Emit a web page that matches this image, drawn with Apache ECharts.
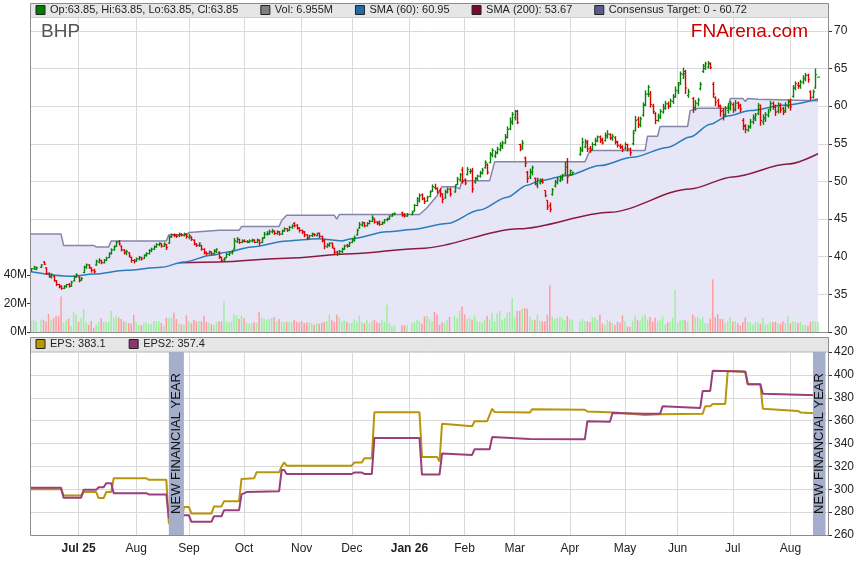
<!DOCTYPE html>
<html>
<head>
<meta charset="utf-8">
<script src="https://cdn.jsdelivr.net/npm/echarts@6/dist/echarts.min.js"></script>
<style>
    html, body { margin: 0; padding: 0; background: #fff; }
    #chart { width: 859px; height: 566px; }
</style>
</head>
<body>
<div id="chart"></div>
<script>
// Axe des dates : jours ouvrés du 4 juin 2025 au 24 août 2026
const startDate = "2025-06-04";
const endDate = "2026-08-24";
const monthLabels = ["Jul 25", "Aug", "Sep", "Oct", "Nov", "Dec", "Jan 26", "Feb", "Mar", "Apr", "May", "Jun", "Jul", "Aug"];
const boldLabels = ["Jul 25", "Jan 26"];
const priceTicks = [30, 35, 40, 45, 50, 55, 60, 65, 70];
const volumeTicks = [0, 20, 40];

// Barres OHLC quotidiennes [ouverture, clôture, bas, haut] (null = jour férié)
const priceBars = [
    [38.1,38.4,38.0,38.5],[38.4,38.6,38.3,38.8],[38.3,38.5,38.2,38.7],null,[38.6,38.9,38.5,39.0],[39.3,39.0,38.9,39.4],[38.5,37.8,37.6,38.6],[37.8,37.4,37.2,37.9],[37.3,37.6,37.1,37.8],[37.4,36.8,36.7,37.5],
    [36.8,36.3,36.1,36.9],[36.3,36.0,35.8,36.4],[36.1,35.8,35.6,36.2],[35.8,36.1,35.7,36.2],[36.0,36.3,35.9,36.4],[36.3,36.1,35.9,36.5],[36.1,36.6,36.0,36.8],[36.8,37.3,36.7,37.5],[37.3,37.6,37.2,37.8],[37.3,36.8,36.6,37.4],
    [36.9,37.1,36.8,37.3],[37.9,38.6,37.8,38.8],[38.6,38.9,38.4,39.1],[38.9,38.6,38.4,39.0],[38.5,38.2,37.9,38.6],[38.2,38.0,37.8,38.4],[38.9,39.4,38.8,39.6],[39.3,39.5,39.1,39.8],[39.5,39.2,39.0,39.6],[39.2,39.5,39.1,39.7],
    [39.5,39.8,39.4,40.0],[39.9,40.4,39.8,40.6],[40.4,40.9,40.3,41.1],[40.9,41.3,40.8,41.5],[41.4,41.9,41.3,42.1],[42.0,41.7,41.5,42.2],[41.4,40.9,40.7,41.5],[40.9,40.6,40.3,41.0],[40.5,40.7,40.2,40.9],[40.5,40.1,39.9,40.6],
    [39.9,39.5,39.2,40.0],[39.5,39.4,39.1,39.7],[39.4,39.7,39.3,39.9],[39.7,39.9,39.5,40.1],[39.9,39.7,39.5,40.0],[39.8,40.2,39.7,40.3],[40.2,40.4,40.0,40.6],[40.4,40.8,40.3,41.0],[40.8,41.0,40.6,41.2],[41.0,41.3,40.9,41.5],
    [41.3,41.6,41.2,41.8],[41.6,41.8,41.4,41.9],[41.7,41.4,41.2,41.8],[41.4,41.7,41.3,41.9],[41.6,41.2,40.9,41.7],[41.8,42.6,41.7,42.8],[42.6,42.9,42.5,43.1],[42.9,42.8,42.6,43.1],[42.9,42.7,42.5,43.0],[42.8,43.0,42.6,43.2],
    [43.0,42.9,42.7,43.1],[42.8,43.0,42.7,43.2],[43.0,42.7,42.4,43.1],[42.6,42.8,42.3,43.0],[42.6,42.3,42.1,42.7],[42.2,41.7,41.5,42.3],[41.7,41.5,41.3,41.8],[41.5,41.8,41.3,41.9],[41.5,41.0,40.8,41.6],[41.0,40.6,40.3,41.1],
    [40.5,40.4,40.2,40.7],[40.4,40.7,40.3,40.8],[40.6,40.4,40.2,40.7],[40.4,40.8,40.3,41.0],[40.7,41.0,40.5,41.1],[40.6,40.0,39.7,40.7],[39.9,39.5,39.3,40.0],[39.6,39.7,39.4,39.9],[39.9,40.3,39.8,40.5],[40.3,40.5,40.1,40.7],
    [40.5,40.7,40.3,40.9],[41.0,42.1,40.9,42.5],[42.0,42.3,41.8,42.6],[42.3,41.9,41.7,42.4],[41.9,42.1,41.8,42.3],[42.1,42.0,41.9,42.3],[42.0,42.0,41.8,42.2],[41.9,42.1,41.8,42.3],[42.1,42.2,41.9,42.4],[42.2,41.9,41.8,42.3],
    [41.9,42.2,41.8,42.4],[42.2,41.8,41.5,42.3],[41.9,42.4,41.8,42.6],[42.5,43.0,42.4,43.3],[43.0,43.1,42.8,43.4],[43.0,43.3,42.9,43.6],[43.3,43.4,43.1,43.7],[43.4,43.1,42.9,43.5],[43.1,43.3,42.9,43.5],[43.3,43.0,42.8,43.4],
    [43.0,43.4,42.9,43.6],[43.4,43.7,43.3,43.9],[43.7,43.5,43.3,43.8],[43.5,43.9,43.4,44.1],[43.9,44.1,43.7,44.3],[44.4,44.1,43.9,44.6],[44.2,43.8,43.6,44.3],[43.8,43.5,43.2,43.9],[43.5,43.3,43.0,43.6],[43.3,42.9,42.6,43.4],
    [42.9,42.5,42.2,43.0],[42.5,42.8,42.4,42.9],[42.8,43.0,42.6,43.2],[43.0,42.9,42.7,43.1],[42.8,43.1,42.7,43.2],[43.1,42.7,42.5,43.2],[42.7,42.2,41.9,42.8],[42.1,41.4,41.0,42.3],[41.3,41.6,41.2,41.8],[41.5,41.8,41.3,41.9],
    [41.8,41.3,41.1,41.9],[41.1,40.6,40.3,41.2],[40.6,40.3,40.1,40.8],[40.3,40.7,40.2,40.9],[40.7,41.0,40.5,41.2],[41.0,41.4,40.9,41.6],[41.5,41.4,41.2,41.7],[41.4,41.8,41.3,42.0],[41.9,42.2,41.8,42.5],[42.2,42.5,42.0,42.8],
    [42.9,43.5,42.8,43.7],[43.8,44.3,43.7,44.6],[44.2,44.5,44.0,44.7],[44.5,44.1,43.9,44.6],[44.1,44.4,44.0,44.6],[44.4,44.7,44.3,44.9],[44.7,45.2,44.6,45.5],[45.0,44.6,44.4,45.1],[44.6,44.4,44.2,44.7],[44.6,44.3,44.1,44.8],
    [44.3,44.5,44.2,44.7],[44.5,44.9,44.4,45.0],[44.9,45.0,44.7,45.2],[45.0,45.4,44.9,45.5],[45.4,45.6,45.3,45.8],[45.6,45.7,45.5,45.9],null,null,[45.8,45.5,45.3,46.0],[45.6,45.4,45.2,45.8],
    [45.4,45.6,45.3,45.8],null,[45.6,45.9,45.5,46.1],[46.1,46.8,46.0,47.0],[46.8,47.7,46.7,47.9],[47.4,48.1,47.2,48.4],[48.2,47.7,47.5,48.4],[47.7,47.3,47.0,47.9],[47.4,47.9,47.3,48.1],[48.0,48.6,47.9,48.8],
    [48.7,49.3,48.6,49.6],[49.2,49.1,48.9,49.7],[49.0,48.6,48.4,49.2],[48.8,48.4,47.9,49.1],[48.3,47.6,47.1,48.4],[47.8,48.6,47.7,48.9],[48.6,49.0,48.4,49.2],[48.9,48.3,48.0,49.2],null,[48.6,49.4,48.5,49.6],
    [49.6,50.3,49.5,50.6],[50.2,50.9,50.0,51.1],[51.5,50.0,49.7,51.9],[50.2,49.8,49.5,50.4],[50.9,51.6,50.8,51.9],[51.3,51.4,51.0,51.7],[51.3,49.0,48.5,51.8],[49.9,50.4,49.7,50.6],[50.3,50.7,50.1,50.9],[50.7,51.1,50.5,51.4],
    [51.1,51.5,50.9,51.8],[51.8,52.5,51.7,52.8],[52.2,51.2,50.9,52.4],[52.5,53.6,52.4,53.9],[53.5,54.1,53.2,54.4],[53.4,53.8,53.1,54.1],[53.8,54.3,53.6,54.6],[54.2,54.8,54.0,55.2],[54.6,55.1,54.3,55.4],[55.1,55.8,55.0,56.3],
    [55.9,56.9,55.7,57.3],[57.0,58.0,56.8,58.5],[57.8,58.9,57.5,59.2],[58.5,59.3,58.1,59.5],[59.3,57.8,57.6,59.5],[54.9,54.3,54.0,55.0],[54.6,55.1,54.2,55.5],[53.1,52.4,51.9,53.3],[51.2,50.4,49.8,51.4],[50.6,51.3,50.3,51.7],
    [51.2,51.8,50.8,52.1],[50.4,49.7,49.5,50.5],[49.5,50.3,49.1,50.5],[49.8,50.2,49.6,50.4],[50.0,49.9,49.7,50.4],[48.8,48.1,47.9,48.8],[47.5,46.6,46.2,47.5],[46.8,46.3,45.9,47.2],[48.3,48.9,48.1,49.1],[49.4,49.9,49.2,50.2],
    [49.9,50.3,49.6,50.6],[50.1,50.5,49.9,50.8],[50.3,50.8,50.1,51.0],[51.0,51.9,50.8,52.6],[52.6,50.6,49.7,53.1],[50.9,51.4,50.7,51.6],[50.9,51.2,50.8,51.3],null,null,[53.6,54.3,53.4,54.6],
    [54.1,55.2,53.9,55.8],[54.6,55.3,54.4,55.6],[55.1,54.3,53.9,55.5],[54.4,54.1,53.8,54.7],[54.3,54.9,54.1,55.2],[54.9,55.4,54.7,55.8],[55.4,55.9,55.2,56.1],[55.9,55.4,55.1,56.1],[55.6,55.1,54.9,55.8],[55.4,56.1,55.3,56.5],
    [55.9,56.3,55.7,56.8],[56.2,55.8,55.5,56.4],[55.7,56.0,55.4,56.3],[55.8,55.2,54.9,56.0],[55.3,54.8,54.5,55.4],[54.7,54.5,54.3,55.0],[54.6,54.2,53.9,54.8],[54.4,54.9,54.2,55.2],[54.9,54.3,54.0,55.0],[54.3,53.8,53.4,54.5],
    [55.0,56.4,54.8,56.8],[56.8,58.1,56.6,58.7],[58.2,57.5,57.1,58.6],[57.6,58.3,57.2,58.6],[58.8,60.1,58.6,60.5],[60.2,61.6,60.0,62.1],[61.6,62.5,61.2,62.8],[61.6,60.2,59.8,62.0],[60.0,59.3,59.0,60.3],[59.0,58.1,57.6,59.2],
    [58.1,58.7,57.9,59.0],[58.5,59.3,58.3,59.6],[59.2,59.9,59.0,60.3],[59.7,60.3,59.5,60.7],[60.3,60.0,59.6,60.6],[60.0,60.7,59.8,61.0],[60.6,61.2,60.3,61.6],[61.3,62.1,61.1,62.6],[62.0,62.8,61.6,63.2],[63.1,64.3,62.8,64.6],
    [64.2,64.6,63.6,65.1],[64.3,62.4,61.6,64.8],[61.4,61.9,61.1,62.3],null,[61.0,59.8,59.1,61.2],[59.6,60.4,59.4,60.8],[60.3,60.8,60.0,61.1],[62.3,62.9,62.1,63.2],[64.6,65.3,64.4,65.6],[65.0,65.6,64.8,65.9],
    [65.2,65.7,65.0,66.0],[65.6,65.1,64.9,65.8],[62.9,61.6,61.1,63.2],[61.1,60.5,60.0,61.3],[60.7,60.1,59.8,61.0],[59.9,59.3,58.6,60.2],[59.4,58.8,58.1,59.7],[58.9,59.7,58.6,60.0],[59.4,59.9,59.0,60.4],[59.7,60.3,59.4,60.7],
    [60.2,59.5,59.1,60.5],[59.6,60.4,59.3,60.8],[60.4,60.0,59.6,60.6],[60.1,59.6,59.2,60.3],[58.1,57.4,56.8,58.4],[57.3,56.9,56.4,57.6],[56.8,57.2,56.6,57.5],[57.3,57.9,57.0,58.3],[57.9,58.5,57.6,58.9],[58.3,58.8,58.0,59.1],
    [59.0,60.1,58.8,60.4],[59.6,58.1,57.4,60.2],[57.9,58.5,57.5,58.9],[58.3,58.9,57.9,59.2],[58.8,59.2,58.5,59.6],[59.6,60.3,59.3,60.7],[60.4,59.9,59.5,60.6],[59.9,59.2,58.7,60.2],[59.3,60.1,59.0,60.5],[60.1,59.5,59.1,60.4],
    [59.7,59.2,58.8,59.9],[59.4,60.1,59.1,60.5],[60.0,60.5,59.7,60.9],[60.6,59.9,59.4,61.0],[61.3,62.4,61.1,62.8],[62.4,63.0,62.1,63.3],[62.8,62.7,62.3,63.2],[62.6,63.2,62.3,63.5],[63.2,63.7,62.9,64.1],[63.6,64.1,63.3,64.4],
    [64.1,63.5,63.1,64.3],[61.9,61.1,60.8,62.1],[61.2,61.9,61.0,62.2],[62.4,64.2,62.3,65.0],[63.85,63.85,63.85,63.85]
];

// Volume quotidien en millions
const volumes = [
    8.2,8.6,7.7,null,8.6,8.6,7.5,12.8,8.6,9.8,
    11.4,11.0,25.0,6.8,8.2,9.3,4.4,14.2,12.4,7.2,
    9.6,16.3,7.2,5.1,7.7,3.0,5.1,7.0,9.6,7.2,
    6.8,7.2,14.9,10.0,11.7,10.3,9.1,7.5,6.8,6.3,
    5.8,12.1,7.2,5.1,4.7,6.3,6.8,5.4,5.8,7.7,
    7.7,7.5,6.3,4.4,10.0,9.6,10.3,13.5,9.1,5.8,
    5.4,5.1,11.7,7.7,6.1,8.4,7.5,7.7,7.5,11.4,
    7.0,6.3,5.6,4.9,7.0,7.5,7.5,21.9,7.0,6.8,
    7.5,12.4,11.4,9.1,11.4,9.6,6.3,5.8,6.3,6.8,
    6.3,14.2,10.0,9.6,8.6,9.1,9.8,10.5,7.5,9.1,
    7.2,7.2,7.2,7.2,7.0,8.6,7.2,6.8,7.7,6.3,
    6.8,6.8,6.3,5.1,6.3,5.8,6.5,7.0,7.7,12.4,
    8.2,7.2,12.1,10.5,7.2,8.2,7.0,6.1,6.3,8.9,
    7.2,11.7,7.0,6.1,8.4,6.3,7.5,8.6,6.8,6.3,
    8.6,7.2,19.1,6.3,4.4,4.7,null,null,4.7,4.7,
    4.7,null,6.3,7.0,8.6,7.7,5.8,11.0,11.4,9.1,
    7.5,14.2,12.4,5.1,6.8,6.3,8.2,10.5,null,11.4,
    9.8,14.9,18.0,12.4,9.3,10.0,8.6,11.4,7.9,7.2,
    6.8,8.6,11.4,8.6,13.5,7.7,13.1,14.9,8.6,10.0,
    13.8,14.5,24.0,10.7,14.9,14.9,16.3,17.0,16.3,10.7,
    8.6,8.6,12.1,7.9,7.5,7.5,12.1,32.7,10.7,9.1,
    9.8,10.7,9.8,8.4,11.4,9.3,8.6,null,null,7.5,
    9.3,7.5,7.5,6.8,10.3,10.3,8.4,12.4,5.8,4.9,
    8.6,7.2,6.3,4.9,7.2,6.5,11.7,7.5,4.0,3.5,
    7.9,11.4,8.6,7.9,11.0,12.4,8.6,10.3,7.2,10.0,
    7.9,8.6,11.0,5.1,6.8,6.8,10.0,29.6,6.8,8.2,
    8.6,8.2,7.2,null,12.4,10.5,10.7,9.1,10.3,6.1,
    6.1,9.3,37.0,10.3,12.4,9.3,9.1,6.3,7.7,10.3,
    7.2,7.5,6.3,4.7,6.8,10.3,6.8,6.8,5.1,7.0,
    7.2,5.8,10.0,5.1,5.6,7.0,7.0,7.2,6.3,5.8,
    7.5,6.3,11.4,6.1,7.5,7.0,6.3,7.2,4.9,5.1,
    4.4,7.2,7.9,7.2,6.955
];

// Moyennes mobiles [indice du jour, valeur]
const sma60Points = [[0,38.0],[16,37.4],[25,37.7],[38,38.2],[52,38.6],[61,39.3],[72,40.2],[78,40.6],[88,41.3],[102,42.1],[110,42.3],[115,42.4],[124,42.1],[128,42.4],[142,43.3],[152,43.6],[166,44.4],[179,46.2],[190,47.9],[198,49.5],[203,50.1],[214,50.8],[227,52.1],[240,53.2],[254,54.5],[263,55.9],[271,57.6],[278,58.7],[287,59.4],[300,60.1],[314,60.95]];
const sma200Points = [[59,39.2],[75,39.3],[102,39.8],[128,40.4],[155,41.1],[195,43.7],[231,45.9],[263,49.0],[280,50.6],[302,52.3],[314,53.67]];

// Objectif de consensus (palier) [indice du jour, valeur]
const consensusPoints = [[0,43.0],[12,43.0],[13,41.5],[25,41.5],[26,41.3],[31,41.3],[32,42.1],[54,42.1],[55,42.9],[62,42.9],[63,43.2],[75,43.5],[83,43.5],[84,44.0],[99,44.0],[100,44.8],[102,45.5],[121,45.5],[122,45.0],[123,45.6],[155,45.6],[158,46.5],[162,48.1],[164,49.3],[169,49.3],[171,49.0],[172,50.1],[183,50.1],[185,52.6],[221,52.6],[223,54.1],[245,54.1],[246,56.0],[250,56.0],[251,57.3],[262,57.3],[263,59.4],[266,59.7],[278,59.7],[279,61.0],[284,61.0],[285,60.6],[286,61.0],[290,60.9],[314,60.72]];

// Prévisions de BPA [indice du jour, valeur]
const epsPoints = [[0,300],[12,300],[13,294.6],[20,294.6],[21,297.5],[26,297.5],[27,292.3],[29,292.3],[30,297.5],[32,297.5],[33,309.6],[46,309.6],[47,308.2],[54,308.2],[55,270],[60,270],[61,284.5],[63,284.5],[64,278.7],[72,278.7],[73,285],[76,285],[77,289.4],[83,289.4],[84,309],[89,309.6],[90,314.8],[99,314.8],[100,320],[101,323.4],[102,320.6],[128,320.6],[129,323.4],[132,323.4],[133,327.2],[136,327.2],[137,367.3],[155,367.3],[156,328.3],[162,328.3],[163,324.3],[164,357.2],[176,355],[177,359.5],[182,359.5],[184,370.4],[185,367.5],[199,367],[200,370],[221,369.5],[222,368],[233,367],[245,365],[251,365.5],[268,366],[269,372.6],[271,372.6],[272,374.5],[277,374.5],[278,403.3],[285,402.5],[286,391.8],[291,391.8],[292,370.4],[306,368.5],[307,367.2],[317,366]];
const eps2Points = [[0,301.3],[12,301.3],[13,292.6],[20,292.6],[21,299.5],[26,299.5],[27,301.8],[29,301.8],[30,305.3],[32,305.3],[33,296.6],[46,296.6],[47,295.5],[54,295.5],[55,275],[60,275],[61,277.3],[63,277.3],[64,271.5],[72,271.5],[73,276.4],[76,276.4],[77,281.6],[83,281.6],[84,295.5],[86,297.5],[99,298.3],[100,316.8],[101,316.8],[102,313.4],[128,313.4],[129,314.6],[132,314.6],[133,313.4],[136,313.4],[137,344.8],[155,344.8],[156,312.8],[163,312.8],[164,331.2],[176,330],[177,335],[183,335],[184,345.6],[199,344],[221,343.8],[222,359.5],[231,359],[232,366.7],[245,366],[251,366],[252,372.5],[267,371],[268,386],[271,386],[272,403.6],[285,403],[286,391.8],[291,391.8],[292,383.4],[317,382]];

// Bandes "nouvel exercice" [indice début, indice fin]
const fiscalYearBands = [[55, 61], [312, 317]];

const ohlcName = "Op:63.85, Hi:63.85, Lo:63.85, Cl:63.85";
const volName = "Vol: 6.955M";
const sma60Name = "SMA (60): 60.95";
const sma200Name = "SMA (200): 53.67";
const consensusName = "Consensus Target: 0 - 60.72";
const epsName = "EPS: 383.1";
const eps2Name = "EPS2: 357.4";

const FONT = "'Liberation Sans', Arial, sans-serif";
const UP = "#0a820a";
const DOWN = "#e00000";

function buildDays(from, to)
{
    // Liste des jours ouvrés (lundi-vendredi)
    const days = [];
    const d = new Date(from + "T00:00:00Z");
    const end = new Date(to + "T00:00:00Z");
    while (d <= end)
    {
        const wd = d.getUTCDay();
        if (wd !== 0 && wd !== 6) days.push(d.toISOString().slice(0, 10));
        d.setUTCDate(d.getUTCDate() + 1);
    }
    return days;
}

const days = buildDays(startDate, endDate);
const labelAt = {};
let k = 0;
for (let i = 1; i < days.length; i++)
{
    if (days[i].slice(5, 7) !== days[i - 1].slice(5, 7)) labelAt[i] = monthLabels[k++];
}
const isMonthStart = (i) => labelAt[i] !== undefined;

const ohlcData = priceBars.map((b, i) => b ? [i, b[0], b[1], b[2], b[3]] : null).filter(Boolean);

function monthAxis(gridIndex, showLabels)
{
    return {
        type: "category",
        gridIndex,
        data: days,
        boundaryGap: false,
        axisLine: { show: false },
        axisTick: { show: false },
        axisLabel: {
            show: showLabels,
            interval: (i) => isMonthStart(i),
            margin: 8,
            fontSize: 12,
            color: "#222",
            fontFamily: FONT,
            formatter: (v, i) => {
                const t = labelAt[i] || "";
                return boldLabels.includes(t) ? "{b|" + t + "}" : t;
            },
            rich: { b: { fontWeight: "bold", fontSize: 12, color: "#222", fontFamily: FONT } }
        },
        splitLine: { show: true, interval: (i) => isMonthStart(i), lineStyle: { color: "#d9d9d9", width: 1 } }
    };
}

function legendBox(top, gap, items)
{
    return {
        left: 35.5, top, padding: 0, itemWidth: 9, itemHeight: 9, itemGap: gap, icon: "rect", selectedMode: false,
        textStyle: { fontSize: 11, color: "#222", fontFamily: FONT },
        data: items.map(([name, color]) => ({ name, itemStyle: { color, borderColor: "#222", borderWidth: 1 } }))
    };
}

const chart = echarts.init(document.getElementById("chart"));

chart.setOption({
    animation: false,
    backgroundColor: "#fff",
    textStyle: { fontFamily: FONT },
    title: [
        { text: "BHP", left: 41, top: 22, padding: 0, textStyle: { fontSize: 19, fontWeight: "normal", color: "#555", fontFamily: FONT } },
        { text: "FNArena.com", right: 51, top: 22, padding: 0, textStyle: { fontSize: 19, fontWeight: "normal", color: "#cc0000", fontFamily: FONT } }
    ],
    legend: [
        legendBox(4.5, 22, [[ohlcName, "#008000"], [volName, "#808080"], [sma60Name, "#1f6aa8"], [sma200Name, "#7a0a2a"], [consensusName, "#5b5b8c"]]),
        legendBox(338.5, 23, [[epsName, "#b8960b"], [eps2Name, "#8e3470"]])
    ],
    graphic: [
        { type: "rect", shape: { x: 31, y: 4, width: 797, height: 13 }, style: { fill: "#e6e6e6" }, silent: true, z: 0 },
        { type: "rect", shape: { x: 31, y: 338, width: 797, height: 13 }, style: { fill: "#e6e6e6" }, silent: true, z: 0 },
        { type: "rect", shape: { x: 30.5, y: 3.5, width: 798, height: 329 }, style: { fill: null, stroke: "#8c8c8c", lineWidth: 1 }, silent: true, z: 100 },
        { type: "line", shape: { x1: 31, y1: 17.5, x2: 828, y2: 17.5 }, style: { stroke: "#cfcfcf", lineWidth: 1 }, silent: true, z: 100 },
        { type: "rect", shape: { x: 30.5, y: 337.5, width: 798, height: 198 }, style: { fill: null, stroke: "#8c8c8c", lineWidth: 1 }, silent: true, z: 100 },
        { type: "line", shape: { x1: 31, y1: 351.5, x2: 828, y2: 351.5 }, style: { stroke: "#cfcfcf", lineWidth: 1 }, silent: true, z: 100 }
    ],
    grid: [
        { left: 31, right: 31, top: 18, bottom: 234 },
        { left: 31, right: 31, top: 352, bottom: 31 }
    ],
    xAxis: [ monthAxis(0, false), monthAxis(1, true) ],
    yAxis: [
        {
            type: "value", gridIndex: 0, position: "right", min: 30, max: 71.7, interval: 5,
            axisLine: { show: false },
            axisTick: { show: true, length: 4, customValues: priceTicks, lineStyle: { color: "#333" } },
            axisLabel: { customValues: priceTicks, fontSize: 12, color: "#222", margin: 6, fontFamily: FONT },
            splitLine: { show: true, lineStyle: { color: "#d9d9d9" } }
        },
        {
            type: "value", gridIndex: 0, position: "left", min: 0, max: 221,
            axisLine: { show: false },
            axisTick: { show: true, length: 4, customValues: volumeTicks, lineStyle: { color: "#333" } },
            axisLabel: { customValues: volumeTicks, fontSize: 12, color: "#222", margin: 4, fontFamily: FONT, formatter: (v) => v + "M" },
            splitLine: { show: false }
        },
        {
            type: "value", gridIndex: 1, position: "right", min: 260, max: 420, interval: 20,
            axisLine: { show: false },
            axisTick: { show: true, length: 4, lineStyle: { color: "#333" } },
            axisLabel: { fontSize: 12, color: "#222", margin: 6, fontFamily: FONT },
            splitLine: { show: true, lineStyle: { color: "#d9d9d9" } }
        }
    ],
    series: [
        {
            name: consensusName, type: "line", xAxisIndex: 0, yAxisIndex: 0, z: 1,
            data: consensusPoints, symbol: "none",
            lineStyle: { color: "#8585ab", width: 1.5 },
            areaStyle: { color: "#e7e6f6", opacity: 1 },
            itemStyle: { color: "#5b5b8c" }
        },
        {
            name: volName, type: "bar", xAxisIndex: 0, yAxisIndex: 1, z: 2,
            data: volumes, barWidth: 1.5,
            itemStyle: {
                color: (p) => {
                    const b = priceBars[p.dataIndex];
                    return b && b[1] < b[0] ? "#ff9c9c" : "#9cf09c";
                }
            }
        },
        {
            name: sma200Name, type: "line", xAxisIndex: 0, yAxisIndex: 0, z: 3,
            data: sma200Points, symbol: "none", smooth: 0.3, smoothMonotone: "x",
            lineStyle: { color: "#8a1a40", width: 1.5 }, itemStyle: { color: "#7a0a2a" }
        },
        {
            name: sma60Name, type: "line", xAxisIndex: 0, yAxisIndex: 0, z: 3,
            data: sma60Points, symbol: "none", smooth: 0.3, smoothMonotone: "x",
            lineStyle: { color: "#2a7cbd", width: 1.5 }, itemStyle: { color: "#1f6aa8" }
        },
        {
            name: ohlcName, type: "custom", xAxisIndex: 0, yAxisIndex: 0, z: 4,
            data: ohlcData,
            encode: { x: 0, y: [1, 2, 3, 4] },
            itemStyle: { color: "#008000" },
            renderItem: (params, api) => {
                const i = api.value(0);
                const o = api.coord([i, api.value(1)]);
                const c = api.coord([i, api.value(2)]);
                const l = api.coord([i, api.value(3)]);
                const h = api.coord([i, api.value(4)]);
                const color = api.value(2) >= api.value(1) ? UP : DOWN;
                const x = Math.round(o[0]) + 0.5;
                return {
                    type: "group",
                    children: [
                        { type: "line", shape: { x1: x, y1: l[1], x2: x, y2: h[1] }, style: { stroke: color, lineWidth: 1.4 } },
                        { type: "line", shape: { x1: x - 1.6, y1: o[1], x2: x, y2: o[1] }, style: { stroke: color, lineWidth: 1 } },
                        { type: "line", shape: { x1: x, y1: c[1], x2: x + 1.6, y2: c[1] }, style: { stroke: color, lineWidth: 1 } }
                    ]
                };
            }
        },
        {
            name: epsName, type: "line", xAxisIndex: 1, yAxisIndex: 2, z: 2,
            data: epsPoints, symbol: "none",
            lineStyle: { color: "#b8960b", width: 2 }, itemStyle: { color: "#b8960b" }
        },
        {
            name: eps2Name, type: "line", xAxisIndex: 1, yAxisIndex: 2, z: 3,
            data: eps2Points, symbol: "none",
            lineStyle: { color: "#9b3e7c", width: 2 }, itemStyle: { color: "#8e3470" }
        },
        {
            type: "custom", xAxisIndex: 1, yAxisIndex: 2, z: 6, silent: true,
            data: fiscalYearBands,
            encode: { x: [0, 1] },
            renderItem: (params, api) => {
                const a = api.coord([api.value(0), 420]);
                const b = api.coord([api.value(1), 260]);
                return {
                    type: "group",
                    children: [
                        { type: "rect", shape: { x: a[0], y: a[1], width: b[0] - a[0], height: b[1] - a[1] }, style: { fill: "#a5aecb" } },
                        {
                            type: "text", x: (a[0] + b[0]) / 2, y: (a[1] + b[1]) / 2, rotation: Math.PI / 2,
                            style: { text: "NEW FINANCIAL YEAR", fill: "#111", font: "13px " + FONT, align: "center", verticalAlign: "middle" }
                        }
                    ]
                };
            }
        }
    ]
});
</script>
</body>
</html>
